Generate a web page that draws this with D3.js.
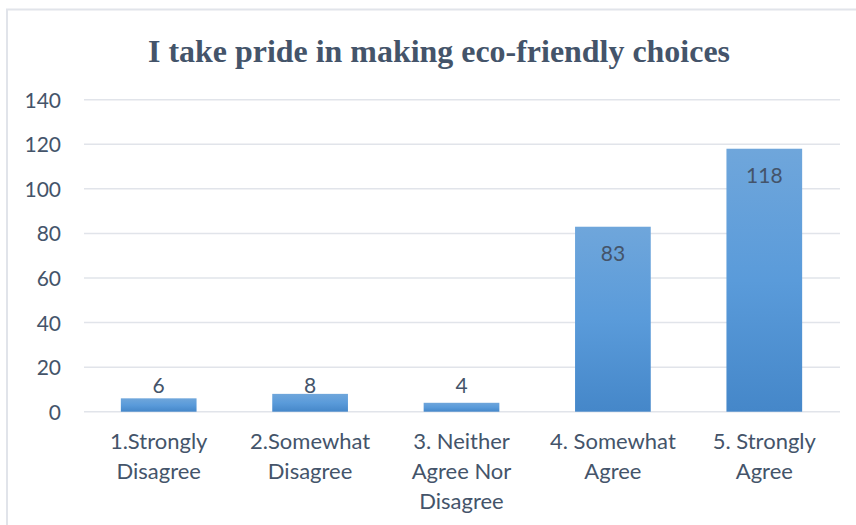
<!DOCTYPE html>
<html>
<head>
<meta charset="utf-8">
<script src="https://cdn.jsdelivr.net/npm/d3@7"></script>
<style>
  html, body { margin: 0; padding: 0; background: #fff; }
  svg { display: block; }
</style>
</head>
<body>
<svg id="chart" width="856" height="525"></svg>
<script>
// Survey responses: "I take pride in making eco-friendly choices"
const categories = [
  ["1.Strongly", "Disagree"],
  ["2.Somewhat", "Disagree"],
  ["3. Neither", "Agree Nor", "Disagree"],
  ["4. Somewhat", "Agree"],
  ["5. Strongly", "Agree"]
];
const counts = [6, 8, 4, 83, 118];
const yTicks = [0, 20, 40, 60, 80, 100, 120, 140];
const title = "I take pride in making eco-friendly choices";

const svg = d3.select("#chart");
const W = 856, H = 525;
const margin = { left: 83, right: 16, top: 100, bottom: 113 };
const textColor = "#44546A";
const gridColor = "#E1E4EA";
const font = "Lato, 'Open Sans', sans-serif";

svg.append("rect").attr("width", W).attr("height", H).attr("fill", "#fff");

// chart frame (top and left edges)
svg.append("path")
  .attr("d", `M7,${H} L7,9.5 L${W},9.5`)
  .attr("fill", "none")
  .attr("stroke", gridColor)
  .attr("stroke-width", 2);

const x = d3.scaleBand()
  .domain(d3.range(counts.length))
  .range([margin.left, W - margin.right])
  .paddingInner(0.5)
  .paddingOuter(0.25);

const y = d3.scaleLinear()
  .domain([0, 140])
  .range([411.7, 99.7]);

// gridlines
svg.append("g")
  .selectAll("line")
  .data(yTicks)
  .join("line")
  .attr("x1", margin.left + 1)
  .attr("x2", W - margin.right)
  .attr("y1", d => y(d))
  .attr("y2", d => y(d))
  .attr("stroke", gridColor)
  .attr("stroke-width", 1.5);

// y axis labels
const yAxis = d3.axisLeft(y).tickValues(yTicks).tickSize(0).tickPadding(0);
const gy = svg.append("g")
  .attr("transform", "translate(61,0)")
  .call(yAxis);
gy.select(".domain").remove();
gy.selectAll("text")
  .attr("fill", textColor)
  .attr("font-family", font)
  .attr("font-size", 21)
  .attr("dy", "0.36em");

// bar gradient
const defs = svg.append("defs");
const grad = defs.append("linearGradient")
  .attr("id", "barGrad")
  .attr("x1", 0).attr("y1", 0).attr("x2", 0).attr("y2", 1);
grad.append("stop").attr("offset", "0%").attr("stop-color", "#6FA6DB");
grad.append("stop").attr("offset", "50%").attr("stop-color", "#5A9BDA");
grad.append("stop").attr("offset", "100%").attr("stop-color", "#4587C9");

// bars
svg.append("g")
  .selectAll("rect")
  .data(counts)
  .join("rect")
  .attr("x", (d, i) => x(i))
  .attr("width", x.bandwidth())
  .attr("y", d => y(d))
  .attr("height", d => y(0) - y(d))
  .attr("fill", "url(#barGrad)");

// value labels
svg.append("g")
  .selectAll("text")
  .data(counts)
  .join("text")
  .attr("x", (d, i) => x(i) + x.bandwidth() / 2)
  .attr("y", d => Math.min(y(d) + 34, y(8.5)))
  .attr("text-anchor", "middle")
  .attr("fill", textColor)
  .attr("font-family", font)
  .attr("font-size", 21)
  .text(d => d);

// category labels
const gx = svg.append("g");
categories.forEach((lines, i) => {
  const t = gx.append("text")
    .attr("x", x(i) + x.bandwidth() / 2)
    .attr("y", 449)
    .attr("text-anchor", "middle")
    .attr("fill", textColor)
    .attr("font-family", font)
    .attr("font-size", 22);
  lines.forEach((line, j) => {
    t.append("tspan")
      .attr("x", x(i) + x.bandwidth() / 2)
      .attr("dy", j === 0 ? 0 : 30)
      .text(line);
  });
});

// title
svg.append("text")
  .attr("x", 439)
  .attr("y", 62)
  .attr("text-anchor", "middle")
  .attr("fill", textColor)
  .attr("font-family", "'Liberation Serif', 'Times New Roman', serif")
  .attr("font-weight", "bold")
  .attr("font-size", 32)
  .attr("textLength", 582)
  .attr("lengthAdjust", "spacingAndGlyphs")
  .text(title);
</script>
</body>
</html>
